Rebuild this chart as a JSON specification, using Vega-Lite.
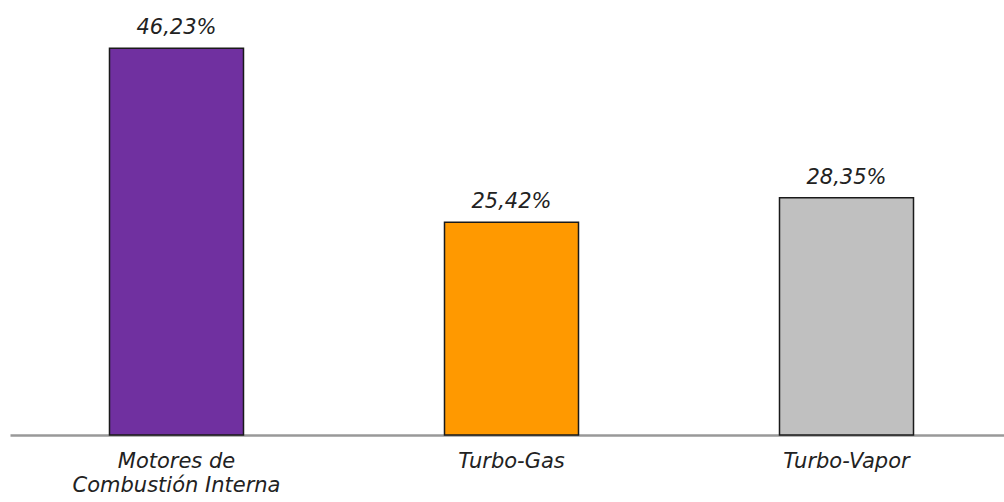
{
  "$schema": "https://vega.github.io/schema/vega-lite/v6.json",
  "width": 1003,
  "height": 435,
  "autosize": {"type": "none"},
  "padding": {"left": 10, "top": 0, "right": 0, "bottom": 67},
  "background": "white",
  "config": {
    "view": {"stroke": null},
    "locale": {"number": {"decimal": ",", "thousands": ".", "grouping": [3], "currency": ["", " €"]}}
  },
  "data": {
    "values": [
      {"tecnologia": "Motores de\nCombustión Interna", "participacion": 0.4623, "color": "#7030A0"},
      {"tecnologia": "Turbo-Gas", "participacion": 0.2542, "color": "#FF9900"},
      {"tecnologia": "Turbo-Vapor", "participacion": 0.2835, "color": "#C0C0C0"}
    ]
  },
  "encoding": {
    "x": {
      "field": "tecnologia",
      "type": "nominal",
      "sort": null,
      "title": null,
      "scale": {"paddingInner": 0.6, "paddingOuter": 0.297},
      "axis": {
        "labelAngle": 0,
        "labelExpr": "split(datum.label, '\\n')",
        "labelFont": "DejaVu Sans",
        "labelFontStyle": "italic",
        "labelFontSize": 21,
        "labelColor": "#222222",
        "labelPadding": 15,
        "labelLineHeight": 24,
        "labelBaseline": "top",
        "labelLimit": 400,
        "ticks": false,
        "domainColor": "#999999",
        "domainWidth": 2.5
      }
    },
    "y": {
      "field": "participacion",
      "type": "quantitative",
      "scale": {"domain": [0, 0.52]},
      "axis": null
    }
  },
  "layer": [
    {
      "mark": {"type": "bar", "stroke": "#1a1a1a", "strokeWidth": 1.5},
      "encoding": {"color": {"field": "color", "type": "nominal", "scale": null}}
    },
    {
      "mark": {"type": "text", "baseline": "bottom", "dy": -10, "font": "DejaVu Sans", "fontStyle": "italic", "fontSize": 21, "color": "#222222"},
      "encoding": {"text": {"field": "participacion", "type": "quantitative", "format": ".2%"}}
    }
  ]
}
